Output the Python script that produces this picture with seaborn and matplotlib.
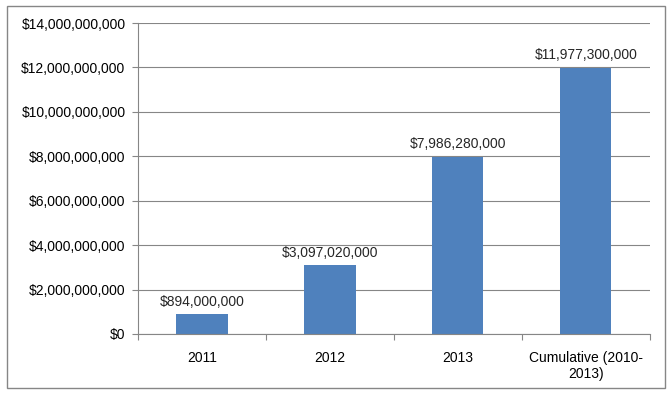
import matplotlib
matplotlib.use("Agg")
import matplotlib.pyplot as plt
import matplotlib.ticker as mticker
import seaborn as sns
import pandas as pd
from matplotlib.patches import Rectangle

categories = ["2011", "2012", "2013", "Cumulative (2010-\n2013)"]
values = [894000000, 3097020000, 7986280000, 11977300000]
value_labels = ["$894,000,000", "$3,097,020,000", "$7,986,280,000", "$11,977,300,000"]

sns.set_theme(style="white")
plt.rcParams['font.family'] = ['Liberation Sans', 'DejaVu Sans']

df = pd.DataFrame({"category": categories, "value": values})

fig = plt.figure(figsize=(6.72, 3.97), dpi=100)
ax = fig.add_axes([0.2054, 0.1587, 0.7616, 0.7833])

sns.barplot(data=df, x="category", y="value", color="#4F81BD", saturation=1,
            width=0.4, linewidth=0, ax=ax)

ax.set_ylim(0, 14e9)
ax.set_xlim(-0.5, 3.5)
ax.yaxis.set_major_locator(mticker.MultipleLocator(2e9))
ax.yaxis.set_major_formatter(mticker.FuncFormatter(lambda v, p: "${:,.0f}".format(v)))
ax.xaxis.set_minor_locator(mticker.FixedLocator([-0.5, 0.5, 1.5, 2.5, 3.5]))
ax.grid(axis="y", color="#868686", linewidth=0.8)
ax.set_axisbelow(True)
for side in ["top", "right"]:
    ax.spines[side].set_visible(False)
for side in ["left", "bottom"]:
    ax.spines[side].set_color("#868686")
    ax.spines[side].set_linewidth(0.8)
ax.set_xlabel("")
ax.set_ylabel("")
ax.tick_params(axis="both", labelsize=10, labelcolor="black")
ax.tick_params(axis="y", which="major", left=True, length=4, width=0.8, color="#868686", pad=5)
ax.tick_params(axis="x", which="major", bottom=False, length=0, pad=12)
ax.tick_params(axis="x", which="minor", bottom=True, length=4, width=0.8, color="#868686")

for i, (v, lab) in enumerate(zip(values, value_labels)):
    ax.annotate(lab, (i, v), xytext=(0, 4), textcoords="offset points",
                ha="center", va="bottom", fontsize=10)

fig.patches.append(Rectangle((0.011, 0.022), 0.978, 0.963, transform=fig.transFigure,
                             fill=False, edgecolor="#868686", linewidth=1))

plt.savefig("out.png", dpi=100)
